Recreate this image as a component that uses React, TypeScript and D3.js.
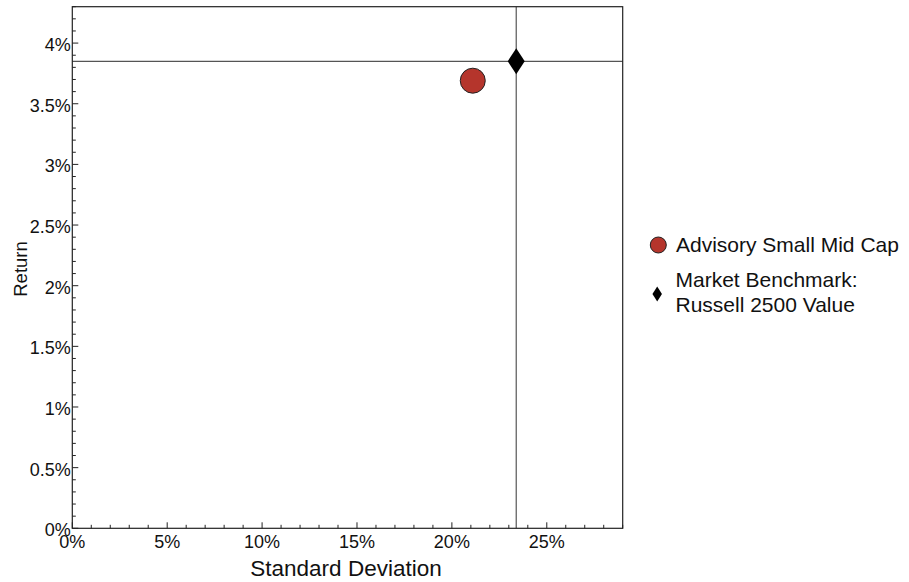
import React from "react";
import * as d3 from "d3";

const seriesNames = ["Advisory Small Mid Cap", "Market Benchmark:\nRussell 2500 Value"];
const stdDevs = [21.1, 23.39];
const returns = [3.69, 3.85];
const xTicks = [0, 5, 10, 15, 20, 25];
const yTicks = [0, 0.5, 1, 1.5, 2, 2.5, 3, 3.5, 4];

const W = 909, H = 582;
const M = { left: 72.3, right: 622.7, top: 6.7, bottom: 528.3 };
const FONT = "'Liberation Sans', Arial, Helvetica, sans-serif";
const RED = "#B5352C";

export default function App() {
  const x = d3.scaleLinear().domain([0, 29]).range([M.left, M.right]);
  const y = d3.scaleLinear().domain([0, 4.3]).range([M.bottom, M.top]);
  const xMinor = d3.range(0, 29.001, 1);
  const yMinor = d3.range(0, 4.3001, 0.1);
  const fmt = (v: number) => `${+v.toFixed(1)}%`;
  const diamond = (cx: number, cy: number, w: number, h: number) =>
    `M${cx},${cy - h / 2}L${cx + w / 2},${cy}L${cx},${cy + h / 2}L${cx - w / 2},${cy}Z`;
  const bx = x(stdDevs[1]), by = y(returns[1]);
  return (
    <svg width={W} height={H} style={{ position: "absolute", left: 0, top: 0, background: "#fff" }} fontFamily={FONT}>
      {/* crosshair */}
      <line x1={M.left} x2={M.right} y1={by} y2={by} stroke="#555" strokeWidth={1.2} />
      <line x1={bx} x2={bx} y1={M.top} y2={M.bottom} stroke="#555" strokeWidth={1.2} />
      {/* frame */}
      <rect x={M.left} y={M.top} width={M.right - M.left} height={M.bottom - M.top} fill="none" stroke="#222" strokeWidth={1.2} />
      {/* minor ticks */}
      {xMinor.map((v) => (
        <line key={"xm" + v} x1={x(v)} x2={x(v)} y1={M.bottom} y2={M.bottom - (v % 5 === 0 ? 6 : 3.5)} stroke="#222" strokeWidth={1} />
      ))}
      {yMinor.map((v, i) => (
        <line key={"ym" + i} y1={y(v)} y2={y(v)} x1={M.left} x2={M.left + (i % 5 === 0 ? 6 : 3.5)} stroke="#222" strokeWidth={1} />
      ))}
      {/* tick labels */}
      {xTicks.map((v) => (
        <text key={"xt" + v} x={x(v)} y={548} textAnchor="middle" fontSize={18} fill="#111">{fmt(v)}</text>
      ))}
      {yTicks.map((v) => (
        <text key={"yt" + v} x={70.8} y={y(v) + 8} textAnchor="end" fontSize={18} fill="#111">{fmt(v)}</text>
      ))}
      {/* axis titles */}
      <text x={346} y={576} textAnchor="middle" fontSize={22.5} fill="#111">Standard Deviation</text>
      <text transform={`translate(26.5,269) rotate(-90)`} textAnchor="middle" fontSize={18.5} fill="#111">Return</text>
      {/* points */}
      <circle cx={x(stdDevs[0])} cy={y(returns[0])} r={12.5} fill={RED} stroke="#222" strokeWidth={1} />
      <path d={diamond(bx, by, 17, 26)} fill="#000" />
      {/* legend */}
      <circle cx={658.3} cy={245} r={8} fill={RED} stroke="#222" strokeWidth={1} />
      <text x={676} y={251.7} fontSize={21} fill="#111">{seriesNames[0]}</text>
      <path d={diamond(657.2, 294, 9.5, 15)} fill="#000" />
      {seriesNames[1].split("\n").map((s, i) => (
        <text key={"lg" + i} x={675.5} y={286.7 + i * 25} fontSize={21} fill="#111">{s}</text>
      ))}
    </svg>
  );
}
